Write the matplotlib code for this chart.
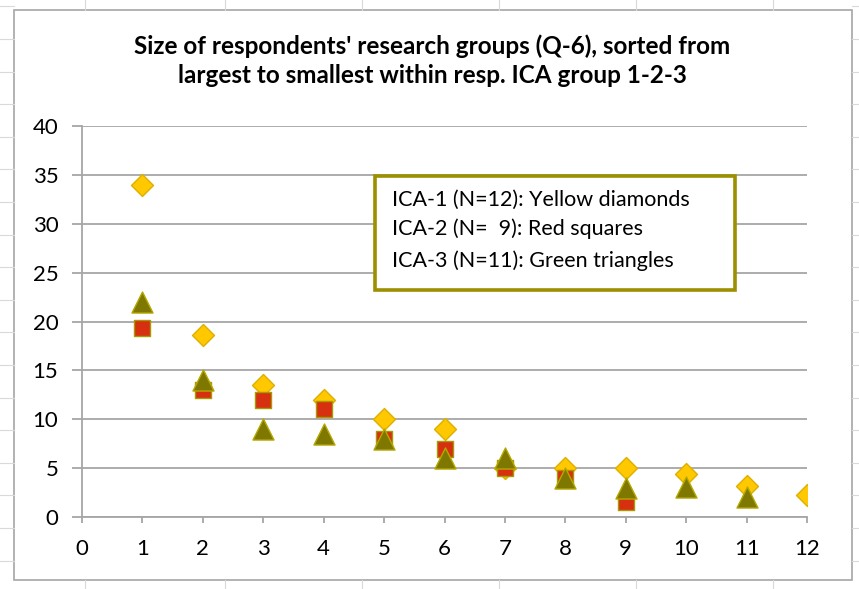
import numpy as np
import matplotlib
matplotlib.use("Agg")
import matplotlib.pyplot as plt
from matplotlib.lines import Line2D
from matplotlib.patches import Rectangle

plt.rcParams['font.family'] = ['Lato', 'DejaVu Sans']

# values
ica1 = [34, 18.6, 13.5, 12, 10, 9, 5, 5, 5, 4.4, 3.2, 2.3]   # yellow diamonds
ica2 = [19.3, 13, 12, 11, 8, 7, 5, 4, 1.5]                   # red squares
ica3 = [22, 14, 9, 8.5, 8, 6, 6, 4, 3, 3.1, 2]               # green triangles
legend_lines = ["ICA-1 (N=12): Yellow diamonds",
                "ICA-2 (N=  9): Red squares",
                "ICA-3 (N=11): Green triangles"]
title = ("Size of respondents' research groups (Q-6), sorted from\n"
         "largest to smallest within resp. ICA group 1-2-3")

W, H = 859, 589
fig = plt.figure(figsize=(W / 100, H / 100), dpi=100)

# spreadsheet cell lines around the chart
cell = '#D9D9D9'
for x in [85, 225, 362, 499, 636, 773]:
    fig.add_artist(Line2D([x / W, x / W], [1, 1 - 10 / H], color=cell, lw=0.8))
    fig.add_artist(Line2D([x / W, x / W], [0, 1 - 580 / H], color=cell, lw=0.8))
for y in np.arange(39 - 32.6, H, 32.6):
    fig.add_artist(Line2D([0, 14 / W], [1 - y / H, 1 - y / H], color=cell, lw=0.8))
    fig.add_artist(Line2D([852 / W, 1], [1 - y / H, 1 - y / H], color=cell, lw=0.8))
# chart border
fig.add_artist(Rectangle((14 / W, 1 - 580 / H), (852 - 14) / W, (580 - 10) / H,
                         fill=False, edgecolor='#A6A6A6', lw=1.2))

ax = fig.add_axes([82 / W, 1 - 517 / H, (807 - 82) / W, (517 - 126) / H])

ax.scatter(np.arange(1, len(ica1) + 1), ica1, marker='D', s=125,
           facecolor='#FFC800', edgecolor='#DDB000', linewidth=1, zorder=3)
ax.scatter(np.arange(1, len(ica2) + 1), ica2, marker='s', s=120,
           facecolor='#D63010', edgecolor='#A89A00', linewidth=1, zorder=4)
ax.scatter(np.arange(1, len(ica3) + 1), ica3, marker='^', s=230,
           facecolor='#7F7800', edgecolor='#B5A800', linewidth=1, zorder=5)

ax.set_xlim(0, 12)
ax.set_ylim(0, 40)
ax.set_xticks(np.arange(0, 13, 1))
ax.set_yticks(np.arange(0, 41, 5))
ax.yaxis.grid(True, color='#A6A6A6', lw=1.3)
ax.set_axisbelow(True)
for s in ['top', 'right']:
    ax.spines[s].set_visible(False)
for s in ['left', 'bottom']:
    ax.spines[s].set_color('#A6A6A6')
    ax.spines[s].set_linewidth(1.3)
ax.tick_params(axis='y', length=7, width=1.3, color='#A6A6A6', pad=10, labelsize=16)
ax.tick_params(axis='x', length=4.5, width=1.3, color='#A6A6A6', pad=11, labelsize=16)

# text box used as legend
ax.add_patch(Rectangle((0.404, 0.5806), 0.4967, 0.2914, transform=ax.transAxes,
                       facecolor='white', edgecolor='#9C8F00', lw=2.6, zorder=6))
for yy, txt in zip([0.811, 0.737, 0.655], legend_lines):
    ax.text(0.427, yy, txt, transform=ax.transAxes, fontsize=15.5,
            va='center', ha='left', zorder=7)

fig.text(432 / W, 1 - 61 / H, title, ha='center', va='center',
         fontsize=17.5, fontweight='bold', linespacing=1.3)

fig.savefig('out.png', dpi=100)
